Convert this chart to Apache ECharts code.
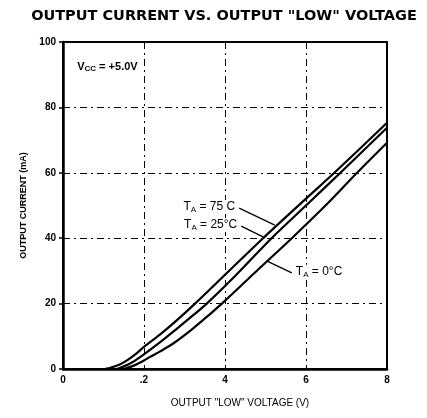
<!DOCTYPE html>
<html>
<head>
<meta charset="utf-8">
<script src="https://cdn.jsdelivr.net/npm/echarts@6/dist/echarts.min.js"></script>
<style>
  html, body { margin: 0; padding: 0; background: #fff; }
  #chart { width: 427px; height: 418px; }
</style>
</head>
<body>
<div id="chart"></div>
<script>
// Output current (mA) vs. output "low" voltage (V) at three ambient temperatures
const volt75 = [0, 1.0, 1.2, 1.4, 1.6, 1.8, 2.0, 2.4, 2.8, 3.26, 4.0, 4.94, 6.0, 6.7, 8.0];
const curr75 = [0, 0, 0.5, 1.4, 2.8, 4.6, 6.8, 10.6, 14.8, 20, 28.8, 40, 52.1, 60, 75.3];

const volt25 = [0, 1.3, 1.5, 1.7, 2.0, 2.4, 2.8, 3.2, 3.55, 4.2, 5.15, 6.0, 6.85, 8.0];
const curr25 = [0, 0, 0.8, 2.0, 4.5, 8.2, 12.2, 16.3, 20, 27.8, 40, 50.0, 60, 73.8];

const volt0 = [0, 1.45, 1.7, 2.0, 2.15, 2.4, 2.72, 3.2, 3.63, 3.95, 4.8, 5.65, 6.5, 7.26, 8.0];
const curr0 = [0, 0, 0.8, 2.6, 3.7, 5.4, 7.8, 12.3, 16.8, 20.3, 30.2, 40, 50.2, 60, 69.2];

const xTickValues = [0, 2, 4, 6, 8];
const xTickLabels = ['0', '.2', '4', '6', '8'];
const yTickValues = [0, 20, 40, 60, 80, 100];
const yTickLabels = ['0', '20', '40', '60', '80', '100'];

// Curve labels: text plus leader line endpoints in data units [V, mA]
const curveLabels = [
  { temp: '75 C',  from: [4.35, 49.2], to: [5.23, 44.0], side: 'left' },
  { temp: '25°C',  from: [4.40, 43.7], to: [4.99, 40.1], side: 'left' },
  { temp: '0°C',   from: [5.04, 33.0], to: [5.65, 29.4], side: 'right' }
];

const pair = (xs, ys) => xs.map((x, i) => [x, ys[i]]);

const FONT = '"Liberation Sans", Arial, sans-serif';
const TITLE_FONT = '"DejaVu Sans", Verdana, sans-serif';
const gridLine = { show: true, lineStyle: { color: '#000', width: 1, type: [7, 4, 2, 4] } };

const chart = echarts.init(document.getElementById('chart'), null, { renderer: 'canvas' });

const curveStyle = { color: '#000', width: 2.2 };
const makeSeries = (name, xs, ys) => ({
  name, type: 'line', data: pair(xs, ys), smooth: 0.3, showSymbol: false,
  lineStyle: curveStyle, itemStyle: { color: '#000' }, silent: true, z: 3
});

chart.setOption({
  animation: false,
  backgroundColor: '#fff',
  title: {
    text: 'OUTPUT CURRENT VS. OUTPUT "LOW" VOLTAGE',
    left: 219, top: 4, textAlign: 'center',
    textStyle: { fontFamily: TITLE_FONT, fontWeight: 'bold', fontSize: 14.5, color: '#000' }
  },
  grid: {
    left: 63, right: 40, top: 42, bottom: 49,
    show: true, borderColor: '#000', borderWidth: 2, backgroundColor: 'transparent'
  },
  xAxis: {
    type: 'value', min: 0, max: 8, interval: 2,
    name: 'OUTPUT "LOW" VOLTAGE (V)', nameLocation: 'middle', nameGap: 29,
    nameTextStyle: { fontFamily: FONT, fontSize: 10, color: '#000', padding: [0, 0, 0, 30] },
    axisLine: { show: true, lineStyle: { color: '#000', width: 2.5 } },
    axisTick: { show: false },
    splitLine: gridLine,
    axisLabel: {
      fontFamily: FONT, fontWeight: 'bold', fontSize: 10, color: '#000', margin: 6,
      formatter: v => xTickLabels[xTickValues.indexOf(v)] ?? ''
    }
  },
  yAxis: {
    type: 'value', min: 0, max: 100, interval: 20,
    name: 'OUTPUT CURRENT (mA)', nameLocation: 'middle', nameGap: 35,
    nameTextStyle: { fontFamily: FONT, fontWeight: 'bold', fontSize: 9, color: '#000' },
    axisLine: { show: true, lineStyle: { color: '#000', width: 2.5 } },
    axisTick: { show: true, length: 4, lineStyle: { color: '#000', width: 1.5 } },
    splitLine: gridLine,
    axisLabel: {
      fontFamily: FONT, fontWeight: 'bold', fontSize: 10, color: '#000', margin: 7,
      formatter: v => yTickLabels[yTickValues.indexOf(v)] ?? ''
    }
  },
  series: [
    makeSeries('TA = 75°C', volt75, curr75),
    makeSeries('TA = 25°C', volt25, curr25),
    makeSeries('TA = 0°C', volt0, curr0)
  ]
});

// Annotations placed through the axis scales
const toPx = p => chart.convertToPixel({ gridIndex: 0 }, p);
const graphics = [];
const vccPos = toPx([0.35, 92.5]);
graphics.push({
  type: 'text', x: vccPos[0], y: vccPos[1], z: 10,
  style: {
    text: '{v|V}{s|CC}{v| = +5.0V}',
    verticalAlign: 'middle',
    rich: {
      v: { fontFamily: FONT, fontWeight: 'bold', fontSize: 11, fill: '#000' },
      s: { fontFamily: FONT, fontWeight: 'bold', fontSize: 8, fill: '#000', padding: [5, 0, 0, 0] }
    }
  }
});
curveLabels.forEach(l => {
  const a = toPx(l.from), b = toPx(l.to);
  graphics.push({
    type: 'line', z: 10,
    shape: { x1: a[0], y1: a[1], x2: b[0], y2: b[1] },
    style: { stroke: '#000', lineWidth: 1.2 }
  });
  const textAt = l.side === 'left' ? a : b;
  const tx = l.side === 'left' ? textAt[0] - 4 : textAt[0] + 4;
  const ty = textAt[1] - 1;
  // white patch behind the label so grid lines do not run through it
  graphics.push({
    type: 'rect', z: 8,
    shape: { x: l.side === 'left' ? tx - 56 : tx - 1, y: ty - 7, width: 57, height: 14 },
    style: { fill: '#fff' }
  });
  graphics.push({
    type: 'text', z: 9, x: tx, y: ty,
    style: {
      text: '{v|T}{s|A}{v| = ' + l.temp + '}',
      align: l.side === 'left' ? 'right' : 'left',
      verticalAlign: 'middle',
      rich: {
        v: { fontFamily: FONT, fontSize: 12, fill: '#000' },
        s: { fontFamily: FONT, fontSize: 8, fill: '#000', padding: [5, 0, 0, 0] }
      }
    }
  });
});
chart.setOption({ graphic: graphics });
</script>
</body>
</html>
